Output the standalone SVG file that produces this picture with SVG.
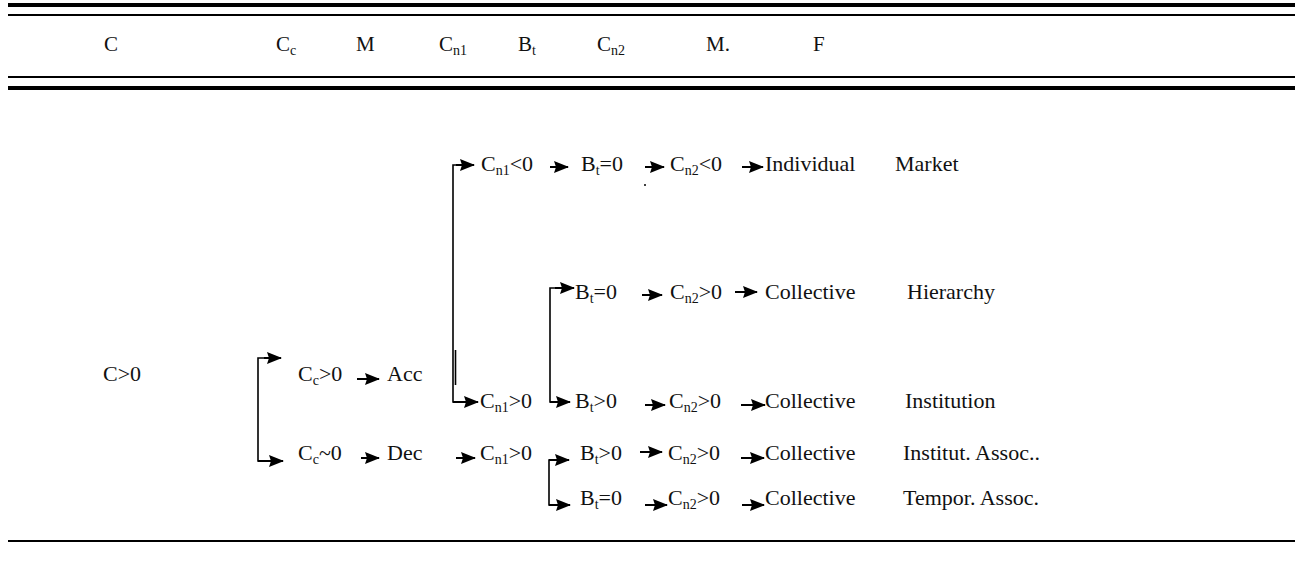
<svg xmlns="http://www.w3.org/2000/svg" width="1302" height="571" viewBox="0 0 1302 571">
<defs>
<style>
text{font-family:"Liberation Serif","DejaVu Serif",serif;font-size:22px;fill:#111}
.hd{font-size:21px}
.sub{font-size:14px}
.rule{stroke:#000;fill:none}
.conn{stroke:#000;stroke-width:1.6;fill:none}
.arr{stroke:#000;stroke-width:2;fill:none;marker-end:url(#ah)}
</style>
<marker id="ah" markerUnits="userSpaceOnUse" markerWidth="15" markerHeight="12" refX="14" refY="6" orient="auto">
<path d="M0,0 L15,6 L0,12 L2,6 Z" fill="#000"/>
</marker>
</defs>
<rect width="1302" height="571" fill="#fff"/>
<g id="rules">
<line class="rule" x1="8" y1="5" x2="1295" y2="5" stroke-width="4"/>
<line class="rule" x1="8" y1="15" x2="1295" y2="15" stroke-width="2"/>
<line class="rule" x1="8" y1="77" x2="1295" y2="77" stroke-width="2"/>
<line class="rule" x1="8" y1="88" x2="1295" y2="88" stroke-width="4"/>
<line class="rule" x1="8" y1="541" x2="1295" y2="541" stroke-width="2"/>
</g>
<g id="header">
<text class="hd" x="104" y="51">C</text>
<text class="hd" x="276" y="51">C<tspan class="sub" dy="4">c</tspan></text>
<text class="hd" x="356" y="51">M</text>
<text class="hd" x="439" y="51">C<tspan class="sub" dy="4">n1</tspan></text>
<text class="hd" x="518" y="51">B<tspan class="sub" dy="4">t</tspan></text>
<text class="hd" x="597" y="51">C<tspan class="sub" dy="4">n2</tspan></text>
<text class="hd" x="706" y="51">M.</text>
<text class="hd" x="813" y="51">F</text>
</g>
<g id="connectors">
<polyline class="conn" points="268,358 258,358 258,461 268,461"/>
<line class="arr" x1="264" y1="358" x2="281" y2="358"/>
<line class="arr" x1="258" y1="461" x2="283" y2="461"/>
<polyline class="conn" points="460,165 453,165 453,402 462,402"/>
<line class="conn" x1="455.5" y1="350" x2="455.5" y2="385"/>
<line class="arr" x1="456" y1="165" x2="474" y2="165"/>
<line class="arr" x1="453" y1="402" x2="478" y2="402"/>
<polyline class="conn" points="558,288 550,288 550,402 558,402" stroke-width="2.2"/>
<line class="arr" x1="555" y1="288" x2="574" y2="288"/>
<line class="arr" x1="550" y1="402" x2="570" y2="402"/>
<polyline class="conn" points="556,460 549,460 549,505 556,505"/>
<line class="arr" x1="549" y1="460" x2="569" y2="460"/>
<line class="arr" x1="549" y1="505" x2="570" y2="505"/>
<line class="arr" x1="550" y1="167" x2="568" y2="167"/>
<line class="arr" x1="645" y1="167" x2="664" y2="167"/>
<line class="arr" x1="742" y1="167" x2="763" y2="167"/>
<line class="arr" x1="642" y1="295" x2="662" y2="295"/>
<line class="arr" x1="735" y1="292" x2="757" y2="292"/>
<line class="arr" x1="357" y1="379" x2="379" y2="379"/>
<line class="arr" x1="645" y1="405" x2="665" y2="405"/>
<line class="arr" x1="741" y1="405" x2="765" y2="405"/>
<line class="arr" x1="361" y1="458" x2="379" y2="458"/>
<line class="arr" x1="456" y1="458" x2="475" y2="458"/>
<line class="arr" x1="640" y1="452" x2="662" y2="452"/>
<line class="arr" x1="741" y1="458" x2="764" y2="458"/>
<line class="arr" x1="645" y1="505" x2="667" y2="505"/>
<line class="arr" x1="742" y1="505" x2="764" y2="505"/>
<circle cx="645" cy="185" r="1" fill="#000"/>
</g>
<g id="n-root"><text x="103" y="381">C&gt;0</text></g>
<g id="n-cc-pos"><text x="298" y="381">C<tspan class="sub" dy="4">c</tspan><tspan dy="-4">&gt;0</tspan></text></g>
<g id="n-acc"><text x="387" y="381">Acc</text></g>
<g id="n-cc-zero"><text x="298" y="460">C<tspan class="sub" dy="4">c</tspan><tspan dy="-4">~0</tspan></text></g>
<g id="n-dec"><text x="387" y="460">Dec</text></g>
<g id="n-r1">
<text x="481" y="171">C<tspan class="sub" dy="4">n1</tspan><tspan dy="-4">&lt;0</tspan></text>
<text x="581" y="171">B<tspan class="sub" dy="4">t</tspan><tspan dy="-4">=0</tspan></text>
<text x="670" y="171">C<tspan class="sub" dy="4">n2</tspan><tspan dy="-4">&lt;0</tspan></text>
<text x="765" y="171">Individual</text>
<text x="895" y="171">Market</text>
</g>
<g id="n-r2">
<text x="575" y="299">B<tspan class="sub" dy="4">t</tspan><tspan dy="-4">=0</tspan></text>
<text x="670" y="299">C<tspan class="sub" dy="4">n2</tspan><tspan dy="-4">&gt;0</tspan></text>
<text x="765" y="299">Collective</text>
<text x="907" y="299">Hierarchy</text>
</g>
<g id="n-r3">
<text x="480" y="408">C<tspan class="sub" dy="4">n1</tspan><tspan dy="-4">&gt;0</tspan></text>
<text x="575" y="408">B<tspan class="sub" dy="4">t</tspan><tspan dy="-4">&gt;0</tspan></text>
<text x="669" y="408">C<tspan class="sub" dy="4">n2</tspan><tspan dy="-4">&gt;0</tspan></text>
<text x="765" y="408">Collective</text>
<text x="905" y="408">Institution</text>
</g>
<g id="n-r4">
<text x="480" y="460">C<tspan class="sub" dy="4">n1</tspan><tspan dy="-4">&gt;0</tspan></text>
<text x="580" y="460">B<tspan class="sub" dy="4">t</tspan><tspan dy="-4">&gt;0</tspan></text>
<text x="668" y="460">C<tspan class="sub" dy="4">n2</tspan><tspan dy="-4">&gt;0</tspan></text>
<text x="765" y="460">Collective</text>
<text x="903" y="460">Institut. Assoc..</text>
</g>
<g id="n-r5">
<text x="580" y="505">B<tspan class="sub" dy="4">t</tspan><tspan dy="-4">=0</tspan></text>
<text x="668" y="505">C<tspan class="sub" dy="4">n2</tspan><tspan dy="-4">&gt;0</tspan></text>
<text x="765" y="505">Collective</text>
<text x="903" y="505">Tempor. Assoc.</text>
</g>
</svg>
